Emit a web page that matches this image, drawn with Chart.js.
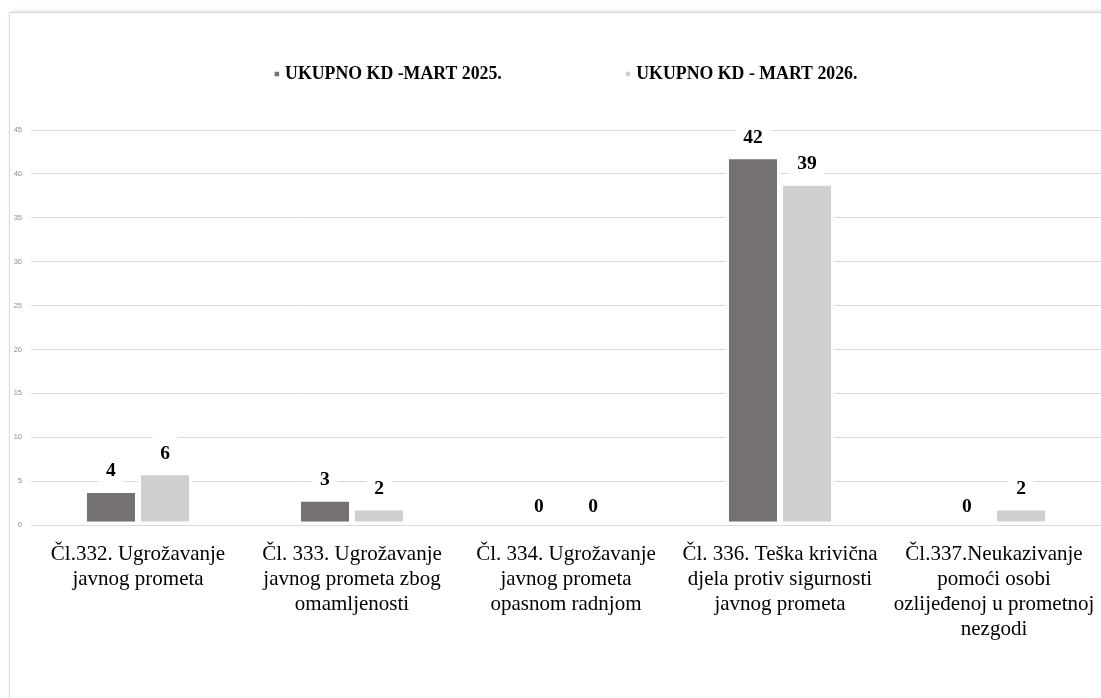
<!DOCTYPE html>
<html>
<head>
<meta charset="utf-8">
<script src="https://cdn.jsdelivr.net/npm/chart.js@4.4.1/dist/chart.umd.min.js"></script>
<style>
  html, body { margin: 0; padding: 0; background: #ffffff; }
  body { width: 1101px; height: 698px; position: relative; overflow: hidden; }
  .frame {
    position: absolute; left: 9px; top: 12px; width: 1100px; height: 700px;
    border-top: 1px solid #d4d4d4; border-left: 1px solid #d9d9d9;
    box-shadow: 0 -3px 5px -2px rgba(0,0,0,0.12);
  }
  #chart { position: absolute; left: 0; top: 0; }
</style>
</head>
<body>
<div class="frame"></div>
<canvas id="chart" width="1101" height="698"></canvas>
<script>
// ---- data ----
const categories = [
  ["Čl.332. Ugrožavanje", "javnog prometa"],
  ["Čl. 333. Ugrožavanje", "javnog prometa zbog", "omamljenosti"],
  ["Čl. 334. Ugrožavanje", "javnog prometa", "opasnom radnjom"],
  ["Čl. 336. Teška krivična", "djela protiv sigurnosti", "javnog prometa"],
  ["Čl.337.Neukazivanje", "pomoći osobi", "ozlijeđenoj u prometnoj", "nezgodi"]
];
const series2025 = [4, 3, 0, 42, 0];
const series2026 = [6, 2, 0, 39, 2];
const seriesNames = ["UKUPNO KD -MART 2025.", "UKUPNO KD - MART 2026."];
const yMin = 0, yMax = 45, yStep = 5;

const colors = ["#767171", "#D0CECE"];
const serif = '"Liberation Serif", "DejaVu Serif", serif';

// ---- plugins ----
const valueLabels = {
  id: 'valueLabels',
  afterDatasetsDraw(chart) {
    const ctx = chart.ctx;
    ctx.save();
    ctx.font = 'bold 19.5px ' + serif;
    ctx.textAlign = 'center';
    ctx.textBaseline = 'middle';
    chart.data.datasets.forEach((ds, di) => {
      const meta = chart.getDatasetMeta(di);
      meta.data.forEach((bar, i) => {
        const txt = String(ds.data[i]);
        const cy = bar.y - 19.5;
        const w = ctx.measureText(txt).width + 15;
        const h = 34;
        ctx.fillStyle = '#ffffff';
        ctx.fillRect(bar.x - w / 2, cy - h / 2, w, h);
        ctx.fillStyle = '#000000';
        ctx.fillText(txt, bar.x, cy + 1);
      });
    });
    ctx.restore();
  }
};

const topLegend = {
  id: 'topLegend',
  afterDraw(chart) {
    const ctx = chart.ctx;
    ctx.save();
    ctx.font = 'bold 17.8px ' + serif;
    ctx.textBaseline = 'middle';
    ctx.textAlign = 'left';
    const marker = 4.5, markerGap = 6, itemGap = 124;
    const items = chart.data.datasets.map(ds => ({
      text: ds.label, color: ds.backgroundColor,
      w: marker + markerGap + ctx.measureText(ds.label).width
    }));
    const total = items.reduce((s, it) => s + it.w, 0) + itemGap * (items.length - 1);
    const ca = chart.chartArea;
    let x = (ca.left + ca.right) / 2 - total / 2;
    const y = 73;
    items.forEach(it => {
      ctx.fillStyle = it.color;
      ctx.fillRect(x, y - marker / 2 + 1, marker, marker);
      ctx.fillStyle = '#000000';
      ctx.fillText(it.text, x + marker + markerGap, y + 1);
      x += it.w + itemGap;
    });
    ctx.restore();
  }
};

new Chart(document.getElementById('chart'), {
  type: 'bar',
  data: {
    labels: categories,
    datasets: [
      { label: seriesNames[0], data: series2025, backgroundColor: colors[0],
        borderColor: '#ffffff', borderWidth: 3, borderSkipped: false },
      { label: seriesNames[1], data: series2026, backgroundColor: colors[1],
        borderColor: '#ffffff', borderWidth: 3, borderSkipped: false }
    ]
  },
  options: {
    responsive: false,
    animation: false,
    devicePixelRatio: 1,
    layout: { padding: { top: 130, left: 9, right: 0, bottom: 39 } },
    datasets: { bar: { categoryPercentage: 0.505, barPercentage: 1.0 } },
    plugins: {
      legend: { display: false },
      tooltip: { enabled: false },
      title: { display: false }
    },
    scales: {
      x: {
        afterFit(scale) { scale.paddingLeft = 0; scale.paddingRight = 0; },
        grid: { display: false, drawTicks: false },
        border: { display: false },
        ticks: {
          autoSkip: false, maxRotation: 0, minRotation: 0,
          padding: 17,
          color: '#000000',
          font: { family: serif, size: 21, lineHeight: 1.19 }
        }
      },
      y: {
        min: yMin, max: yMax,
        afterFit(scale) { scale.width = 22; },
        grid: { color: '#d9d9d9', lineWidth: 1, drawTicks: false },
        border: { display: false },
        ticks: {
          stepSize: yStep, padding: 9,
          color: '#8c8c8c',
          font: { family: '"Liberation Sans", Arial, sans-serif', size: 7.5 }
        }
      }
    }
  },
  plugins: [valueLabels, topLegend]
});
</script>
</body>
</html>
